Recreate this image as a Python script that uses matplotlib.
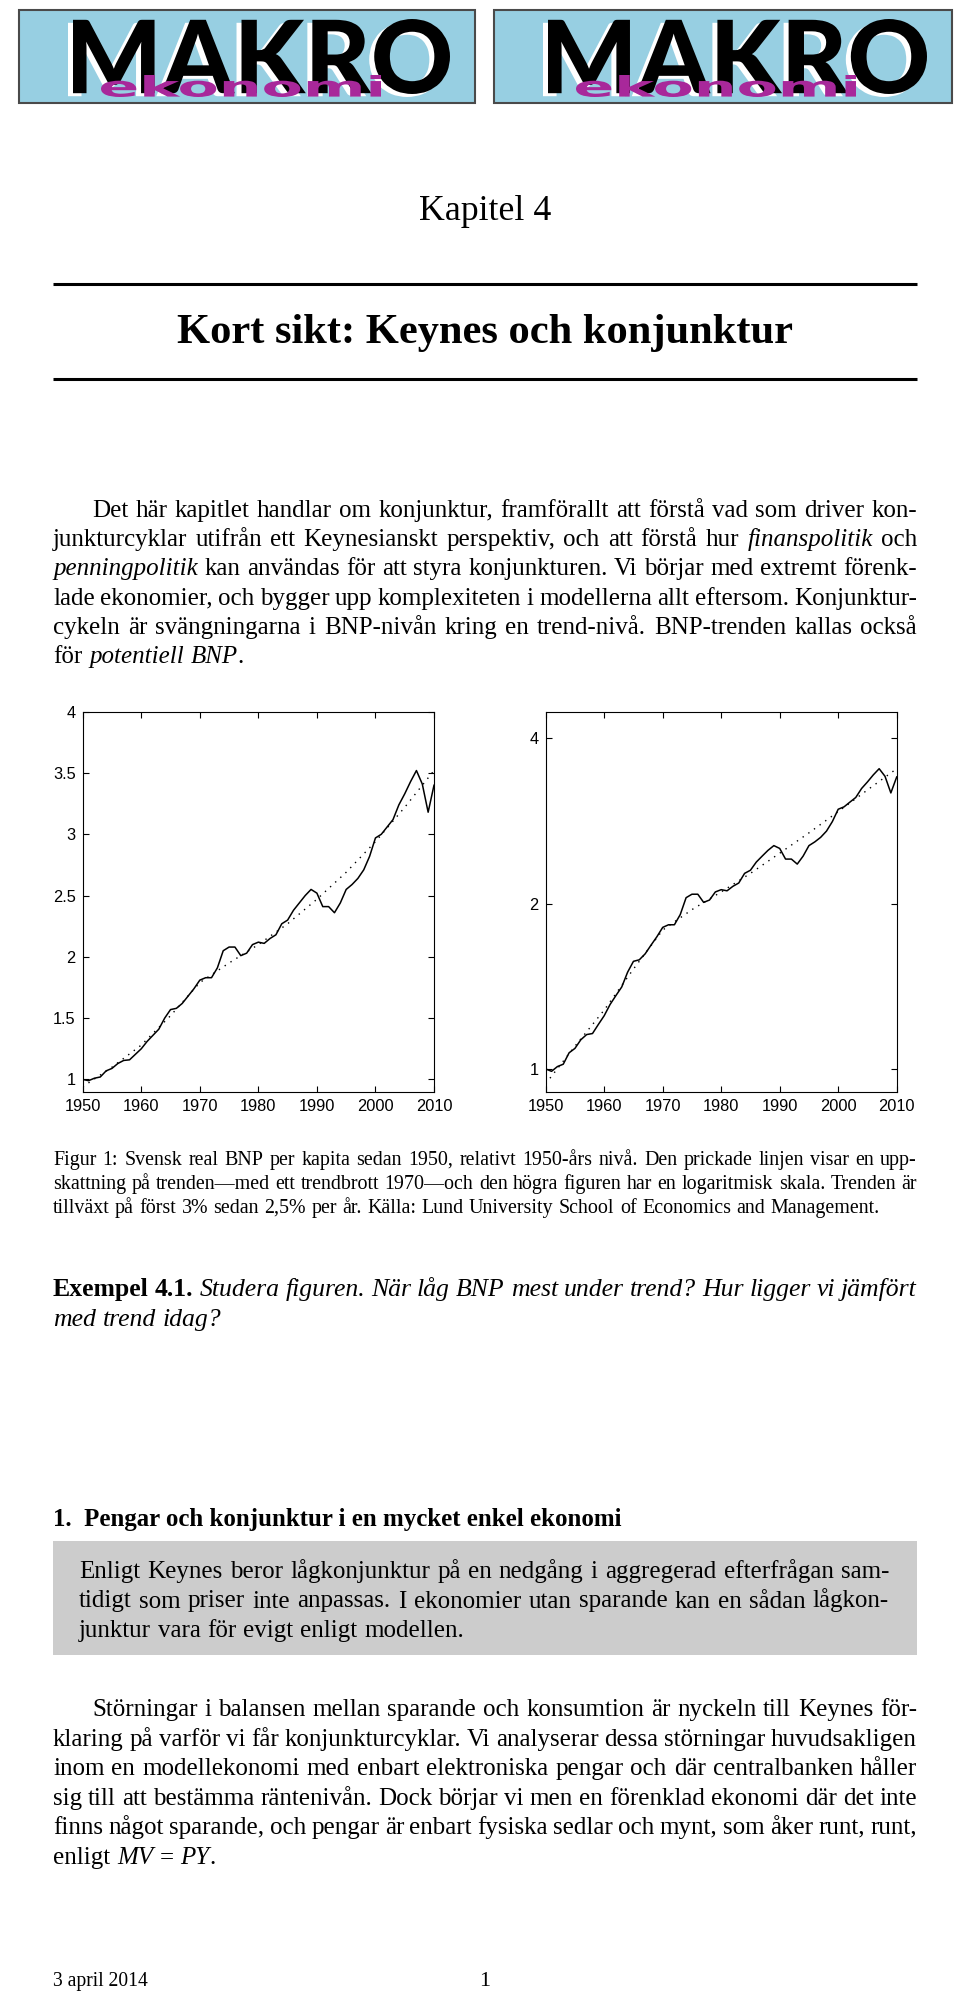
import matplotlib
matplotlib.use("Agg")
import matplotlib.pyplot as plt
import matplotlib.transforms as mtransforms
from matplotlib.textpath import TextPath
from matplotlib.patches import PathPatch, Rectangle
from matplotlib.font_manager import FontProperties
from matplotlib.ticker import FormatStrFormatter, NullLocator

# Svensk real BNP per kapita, relativt 1950
years = list(range(1950, 2011))
bnp = [1.00, 0.99, 1.01, 1.02, 1.07, 1.09, 1.13, 1.155, 1.16, 1.205,
       1.25, 1.31, 1.36, 1.41, 1.50, 1.57, 1.58, 1.62, 1.68, 1.74,
       1.81, 1.83, 1.83, 1.91, 2.05, 2.08, 2.08, 2.01, 2.03, 2.10,
       2.12, 2.11, 2.15, 2.18, 2.27, 2.30, 2.38, 2.44, 2.50, 2.55,
       2.52, 2.41, 2.41, 2.36, 2.44, 2.55, 2.59, 2.64, 2.71, 2.82,
       2.97, 3.00, 3.06, 3.12, 3.24, 3.33, 3.43, 3.52, 3.41, 3.18,
       3.40]
# trend (prickad linje)
trend_years = [1950, 1955, 1960, 1965, 1970, 1975, 1980, 1985, 1990, 1995, 2000, 2005, 2010]
trend = [0.94, 1.10, 1.28, 1.52, 1.79, 1.95, 2.10, 2.27, 2.47, 2.69, 2.94, 3.22, 3.52]

xticks = [1950, 1960, 1970, 1980, 1990, 2000, 2010]
yticks_lin = [1, 1.5, 2, 2.5, 3, 3.5, 4]
yticks_log = [1, 2, 4]

para1 = [
    [("Det här kapitlet handlar om konjunktur, framförallt att förstå vad som driver kon-", 'n')],
    [("junkturcyklar utifrån ett Keynesianskt perspektiv, och att förstå hur ", 'n'), ("finanspolitik", 'i'), (" och", 'n')],
    [("penningpolitik", 'i'), (" kan användas för att styra konjunkturen. Vi börjar med extremt förenk-", 'n')],
    [("lade ekonomier, och bygger upp komplexiteten i modellerna allt eftersom. Konjunktur-", 'n')],
    [("cykeln är svängningarna i BNP-nivån kring en trend-nivå. BNP-trenden kallas också", 'n')],
    [("för ", 'n'), ("potentiell BNP", 'i'), (".", 'n')],
]
caption = [
    [("Figur 1: Svensk real BNP per kapita sedan 1950, relativt 1950-års nivå. Den prickade linjen visar en upp-", 'n')],
    [("skattning på trenden—med ett trendbrott 1970—och den högra figuren har en logaritmisk skala. Trenden är", 'n')],
    [("tillväxt på först 3% sedan 2,5% per år. Källa: Lund University School of Economics and Management.", 'n')],
]
exempel = [
    [("Exempel 4.1.", 'b'), (" Studera figuren. När låg BNP mest under trend? Hur ligger vi jämfört", 'i')],
    [("med trend idag?", 'i')],
]
box_lines = [
    [("Enligt Keynes beror lågkonjunktur på en nedgång i aggregerad efterfrågan sam-", 'n')],
    [("tidigt som priser inte anpassas. I ekonomier utan sparande kan en sådan lågkon-", 'n')],
    [("junktur vara för evigt enligt modellen.", 'n')],
]
para2 = [
    [("Störningar i balansen mellan sparande och konsumtion är nyckeln till Keynes för-", 'n')],
    [("klaring på varför vi får konjunkturcyklar. Vi analyserar dessa störningar huvudsakligen", 'n')],
    [("inom en modellekonomi med enbart elektroniska pengar och där centralbanken håller", 'n')],
    [("sig till att bestämma räntenivån. Dock börjar vi men en förenklad ekonomi där det inte", 'n')],
    [("finns något sparande, och pengar är enbart fysiska sedlar och mynt, som åker runt, runt,", 'n')],
    [("enligt ", 'n'), ("MV", 'i'), ("  =  ", 'n'), ("PY", 'i'), (".", 'n')],
]

SERIF = "Liberation Serif"
plt.rcParams['font.family'] = ["Liberation Sans", "DejaVu Sans"]

fig = plt.figure(figsize=(9.6, 19.93), dpi=100)
renderer = fig.canvas.get_renderer()

# page coordinates in pixels, y downwards
page = fig.add_axes([0, 0, 1, 1])
page.set_xlim(0, 960)
page.set_ylim(1993, 0)
page.axis('off')

STYLES = {'n': dict(style='normal', weight='normal'),
          'i': dict(style='italic', weight='normal'),
          'b': dict(style='normal', weight='bold')}


def text_line(y, parts, x0, x1, size, justify=True):
    words = [[]]
    for txt, st in parts:
        for i, chunk in enumerate(txt.split(' ')):
            if i > 0:
                words.append([])
            if chunk:
                words[-1].append((chunk, st))
    words = [w for w in words if w]
    placed = []
    for w in words:
        arts = [page.text(0, y, c, fontsize=size, family=SERIF, va='baseline', ha='left', **STYLES[st])
                for c, st in w]
        ws = [a.get_window_extent(renderer).width for a in arts]
        placed.append((arts, ws))
    total = sum(sum(ws) for _, ws in placed)
    if justify and len(placed) > 1:
        gap = (x1 - x0 - total) / (len(placed) - 1)
    else:
        gap = 0.27 * size * 100 / 72
    x = x0
    for arts, ws in placed:
        for a, w in zip(arts, ws):
            a.set_x(x)
            x += w
        x += gap


def paragraph(lines, y0, dy, x0, x1, size, indent=0):
    for i, parts in enumerate(lines):
        last = i == len(lines) - 1
        text_line(y0 + i * dy, parts, x0 + (indent if i == 0 else 0), x1, size, justify=not last)


def fit_text(x, y, s, width, ha='left', **kw):
    t = page.text(x, y, s, fontsize=20, va='baseline', ha=ha, **kw)
    w = t.get_window_extent(renderer).width
    t.set_fontsize(20 * width / w)
    return t


def fitted_path(s, box, color, fp, zorder):
    tp = TextPath((0, 0), s, prop=fp, size=100)
    ext = tp.get_extents()
    x0, y0, x1, y1 = box
    tr = (mtransforms.Affine2D().translate(-ext.x0, -ext.y0)
          .scale((x1 - x0) / ext.width, -(y1 - y0) / ext.height)
          .translate(x0, y1) + page.transData)
    page.add_patch(PathPatch(tp, transform=tr, fc=color, ec='none', zorder=zorder))


# logos
heavy = FontProperties(family=["Lato", "DejaVu Sans"], weight="black")
round_bold = FontProperties(family="DejaVu Sans", weight="bold")
for bx, bw in [(19, 456), (494, 458)]:
    page.add_patch(Rectangle((bx, 10), bw, 93, fc='#97cfe2', ec='#4a4a4a', lw=1.5, zorder=1))
    fitted_path("MAKRO", (bx + 54 - 5, 19 + 3, bx + bw - 25 - 5, 94 + 3), 'white', heavy, 2)
    fitted_path("MAKRO", (bx + 54, 19, bx + bw - 25, 94), 'black', heavy, 3)
    fitted_path("ekonomi", (bx + 82, 75, bx + 362, 97), '#a8289a', round_bold, 4)

# chapter heading
fit_text(485, 220, "Kapitel 4", 132, ha='center', family=SERIF)
page.plot([53, 917], [284, 284], color='black', lw=2.2, solid_capstyle='butt')
fit_text(485, 343, "Kort sikt: Keynes och konjunktur", 617, ha='center', family=SERIF, weight='bold')
page.plot([53, 917], [379, 379], color='black', lw=2.2, solid_capstyle='butt')

BODY = 18.0
paragraph(para1, 517, 29.2, 53, 917, BODY, indent=39)

# charts
fh = 1993.0
for left, right, logy in [(82.7, 434.0, False), (545.7, 896.7, True)]:
    ax = fig.add_axes([left / 960, 1 - 1091.7 / fh, (right - left) / 960, 380 / fh])
    ax.plot(years, bnp, color='black', lw=1.1)
    ax.plot(trend_years, trend, color='black', lw=1.0, ls=(0, (1, 4)))
    ax.set_xlim(1950, 2010)
    ax.set_xticks(xticks)
    if logy:
        ax.set_yscale('log')
        ax.set_ylim(0.909, 4.47)
        ax.yaxis.set_minor_locator(NullLocator())
        ax.set_yticks(yticks_log)
    else:
        ax.set_ylim(0.9, 4.0)
        ax.set_yticks(yticks_lin)
    ax.yaxis.set_major_formatter(FormatStrFormatter('%g'))
    ax.tick_params(direction='in', top=True, right=True, length=4.5, width=0.8,
                   labelsize=11.8, pad=5)
    for sp in ax.spines.values():
        sp.set_linewidth(0.8)

CAP = 14.4
paragraph(caption, 1165, 24, 53, 917, CAP)
paragraph(exempel, 1296, 30, 53, 917, 18.5)

fit_text(53, 1526, "1.  Pengar och konjunktur i en mycket enkel ekonomi", 568, family=SERIF, weight='bold')
page.add_patch(Rectangle((53, 1541), 864, 114, fc='#cccccc', ec='none', zorder=0))
paragraph(box_lines, 1578, 29.5, 79, 889, BODY)

paragraph(para2, 1716, 29.6, 53, 917, BODY, indent=39)

fit_text(53, 1986, "3 april 2014", 95, family=SERIF)
page.text(485, 1986, "1", fontsize=16, family=SERIF, ha='center', va='baseline')

fig.savefig("out.png", dpi=100)
